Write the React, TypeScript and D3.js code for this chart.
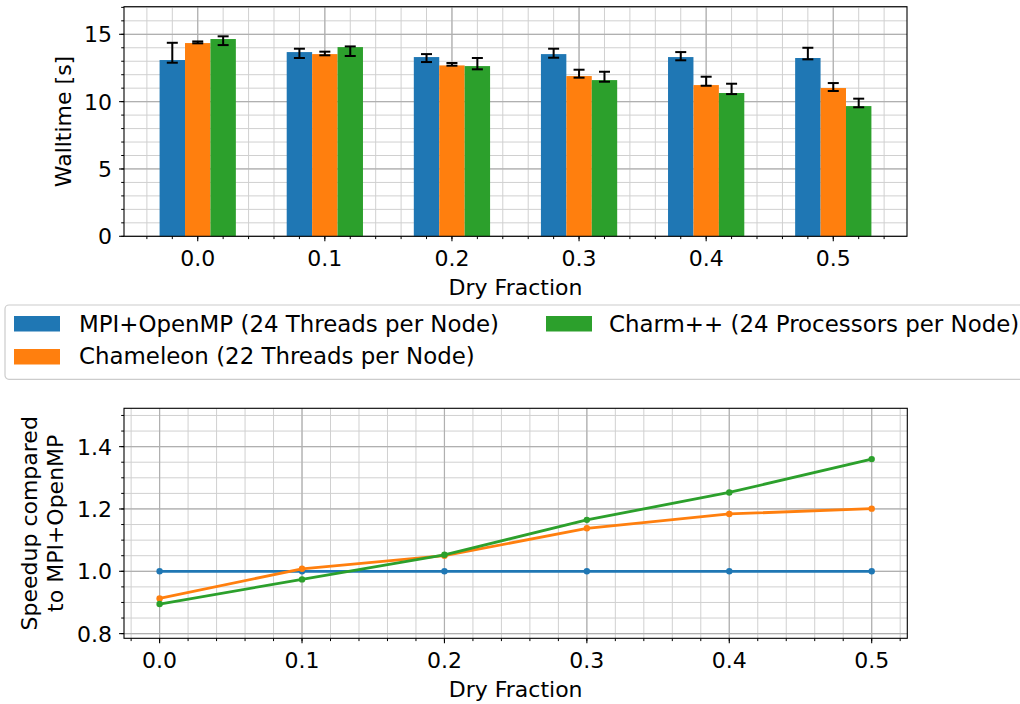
import React from "react";
import * as d3 from "d3";

const fractions = [0.0, 0.1, 0.2, 0.3, 0.4, 0.5];
const tickLabels = ["0.0", "0.1", "0.2", "0.3", "0.4", "0.5"];

const seriesNames = [
  "MPI+OpenMP (24 Threads per Node)",
  "Chameleon (22 Threads per Node)",
  "Charm++ (24 Processors per Node)",
];
const colors = ["#1f77b4", "#ff7f0e", "#2ca02c"];

const mpiWall = [13.09, 13.68, 13.31, 13.53, 13.31, 13.24];
const mpiLow = [12.89, 13.24, 12.94, 13.26, 13.07, 13.14];
const mpiHigh = [14.37, 13.93, 13.53, 13.93, 13.68, 14.0];

const chamWall = [14.35, 13.53, 12.69, 11.9, 11.23, 11.01];
const chamLow = [14.33, 13.44, 12.67, 11.78, 11.18, 10.79];
const chamHigh = [14.47, 13.71, 12.87, 12.37, 11.85, 11.38];

const charmWall = [14.65, 14.05, 12.64, 11.6, 10.64, 9.67];
const charmLow = [14.2, 13.39, 12.4, 11.48, 10.56, 9.58];
const charmHigh = [14.85, 14.1, 13.24, 12.22, 11.33, 10.22];

const mpiSpeedup = [1.0, 1.0, 1.0, 1.0, 1.0, 1.0];
const chamSpeedup = [0.913, 1.008, 1.05, 1.138, 1.184, 1.201];
const charmSpeedup = [0.895, 0.974, 1.053, 1.165, 1.253, 1.36];

const wallTicks = [0, 5, 10, 15];
const speedTicks = [0.8, 1.0, 1.2, 1.4];
const speedTickLabels = ["0.8", "1.0", "1.2", "1.4"];

const FONT = "DejaVu Sans";
const FS = 22;
const LEG_FS = 22.9;

export default function App() {
  const W = 1020, H = 704;
  // top chart
  const tL = 124, tR = 907, tT = 6.7, tB = 236.3;
  const xT = d3.scaleLinear().domain([-0.058, 0.558]).range([tL, tR]);
  const yT = d3.scaleLinear().domain([0, 17.05]).range([tB, tT]);
  const barW = 0.02;
  const offsets = [-0.02, 0, 0.02];
  const walls = [mpiWall, chamWall, charmWall];
  const lows = [mpiLow, chamLow, charmLow];
  const highs = [mpiHigh, chamHigh, charmHigh];

  // bottom chart
  const bL = 124, bR = 907.3, bT = 408.3, bB = 638.3;
  const xB = d3.scaleLinear().domain([-0.025, 0.525]).range([bL, bR]);
  const yB = d3.scaleLinear().domain([0.785, 1.523]).range([bB, bT]);
  const speeds = [mpiSpeedup, chamSpeedup, charmSpeedup];

  const r2 = (v: number) => Math.round(v * 1000) / 1000;
  const topXMinor = d3.range(-2, 28).map((i) => r2(i * 0.02)).filter((v) => v >= -0.058 && v <= 0.558);
  const topYMinor = d3.range(0, 18).filter((v) => v <= 17.05);
  const botXMinor = d3.range(-1, 27).map((i) => r2(i * 0.02)).filter((v) => v >= -0.025 && v <= 0.525);
  const botYMinor = d3.range(16, 31).map((i) => r2(i * 0.05)).filter((v) => v >= 0.785 && v <= 1.523);

  const majorGrid = { stroke: "#b0b0b0", strokeWidth: 1.2 };
  const minorGrid = { stroke: "#d0d0d0", strokeWidth: 1 };
  const line = d3
    .line<number>()
    .x((_, i) => xB(fractions[i]))
    .y((d) => yB(d));

  const capHalf = 5.5;

  return (
    <svg
      width={W}
      height={H}
      style={{ position: "absolute", left: 0, top: 0, background: "#fff" }}
      fontFamily={FONT}
    >
      <rect x={0} y={0} width={W} height={H} fill="#fff" />
      {/* ---------- TOP CHART ---------- */}
      <g>
        {topXMinor.map((v, i) => (
          <line key={"txm" + i} x1={xT(v)} x2={xT(v)} y1={tT} y2={tB} {...minorGrid} />
        ))}
        {topYMinor.map((v, i) => (
          <line key={"tym" + i} x1={tL} x2={tR} y1={yT(v)} y2={yT(v)} {...minorGrid} />
        ))}
        {fractions.map((v, i) => (
          <line key={"txM" + i} x1={xT(v)} x2={xT(v)} y1={tT} y2={tB} {...majorGrid} />
        ))}
        {wallTicks.map((v, i) => (
          <line key={"tyM" + i} x1={tL} x2={tR} y1={yT(v)} y2={yT(v)} {...majorGrid} />
        ))}
        {walls.map((vals, s) =>
          vals.map((v, i) => (
            <rect
              key={"bar" + s + "-" + i}
              x={xT(fractions[i] + offsets[s] - barW / 2)}
              width={xT(fractions[i] + offsets[s] + barW / 2) - xT(fractions[i] + offsets[s] - barW / 2)}
              y={yT(v)}
              height={yT(0) - yT(v)}
              fill={colors[s]}
            />
          ))
        )}
        {walls.map((vals, s) =>
          vals.map((_, i) => {
            const cx = xT(fractions[i] + offsets[s]);
            const y1 = yT(lows[s][i]);
            const y2 = yT(highs[s][i]);
            return (
              <g key={"err" + s + "-" + i} stroke="#000" strokeWidth={2}>
                <line x1={cx} x2={cx} y1={y1} y2={y2} />
                <line x1={cx - capHalf} x2={cx + capHalf} y1={y1} y2={y1} />
                <line x1={cx - capHalf} x2={cx + capHalf} y1={y2} y2={y2} />
              </g>
            );
          })
        )}
        {/* spines */}
        <rect x={tL} y={tT} width={tR - tL} height={tB - tT} fill="none" stroke="#000" strokeWidth={1.1} />
        {/* ticks */}
        {topXMinor.map((v, i) => (
          <line key={"txmt" + i} x1={xT(v)} x2={xT(v)} y1={tB} y2={tB + 2.8} stroke="#000" strokeWidth={1} />
        ))}
        {fractions.map((v, i) => (
          <g key={"txt" + i}>
            <line x1={xT(v)} x2={xT(v)} y1={tB} y2={tB + 4.9} stroke="#000" strokeWidth={1.1} />
            <text x={xT(v)} y={265.7} textAnchor="middle" fontSize={FS} fill="#000">
              {tickLabels[i]}
            </text>
          </g>
        ))}
        {topYMinor.map((v, i) => (
          <line key={"tymt" + i} x1={tL - 2.8} x2={tL} y1={yT(v)} y2={yT(v)} stroke="#000" strokeWidth={1} />
        ))}
        {wallTicks.map((v, i) => (
          <g key={"tyt" + i}>
            <line x1={tL - 4.9} x2={tL} y1={yT(v)} y2={yT(v)} stroke="#000" strokeWidth={1.1} />
            <text x={tL - 12} y={yT(v) + 8} textAnchor="end" fontSize={FS} fill="#000">
              {String(v)}
            </text>
          </g>
        ))}
        <text x={(tL + tR) / 2} y={295} textAnchor="middle" fontSize={FS} fill="#000">
          Dry Fraction
        </text>
        <text
          transform={`translate(70.5,${(tT + tB) / 2}) rotate(-90)`}
          textAnchor="middle"
          fontSize={FS}
          fill="#000"
        >
          Walltime [s]
        </text>
      </g>

      {/* ---------- LEGEND ---------- */}
      <g>
        <rect x={5} y={305} width={1030} height={74.3} rx={4} fill="#fff" fillOpacity={0.8} stroke="#cccccc" strokeWidth={1.2} />
        {[
          { s: 0, px: 14, tx: 79, py: 316, ty: 331.7 },
          { s: 1, px: 14, tx: 79, py: 349, ty: 364.3 },
          { s: 2, px: 546, tx: 609, py: 316, ty: 331.7 },
        ].map((e) => (
          <g key={"leg" + e.s}>
            <rect x={e.px} y={e.py} width={46} height={15.5} fill={colors[e.s]} />
            <text x={e.tx} y={e.ty} fontSize={LEG_FS} fill="#000">
              {seriesNames[e.s]}
            </text>
          </g>
        ))}
      </g>

      {/* ---------- BOTTOM CHART ---------- */}
      <g>
        {botXMinor.map((v, i) => (
          <line key={"bxm" + i} x1={xB(v)} x2={xB(v)} y1={bT} y2={bB} {...minorGrid} />
        ))}
        {botYMinor.map((v, i) => (
          <line key={"bym" + i} x1={bL} x2={bR} y1={yB(v)} y2={yB(v)} {...minorGrid} />
        ))}
        {fractions.map((v, i) => (
          <line key={"bxM" + i} x1={xB(v)} x2={xB(v)} y1={bT} y2={bB} {...majorGrid} />
        ))}
        {speedTicks.map((v, i) => (
          <line key={"byM" + i} x1={bL} x2={bR} y1={yB(v)} y2={yB(v)} {...majorGrid} />
        ))}
        {speeds.map((vals, s) => (
          <g key={"ln" + s}>
            <path d={line(vals) || ""} fill="none" stroke={colors[s]} strokeWidth={2.8} strokeLinejoin="round" />
            {vals.map((v, i) => (
              <circle key={"pt" + i} cx={xB(fractions[i])} cy={yB(v)} r={3.2} fill={colors[s]} />
            ))}
          </g>
        ))}
        <rect x={bL} y={bT} width={bR - bL} height={bB - bT} fill="none" stroke="#000" strokeWidth={1.1} />
        {botXMinor.map((v, i) => (
          <line key={"bxmt" + i} x1={xB(v)} x2={xB(v)} y1={bB} y2={bB + 2.8} stroke="#000" strokeWidth={1} />
        ))}
        {fractions.map((v, i) => (
          <g key={"bxt" + i}>
            <line x1={xB(v)} x2={xB(v)} y1={bB} y2={bB + 4.9} stroke="#000" strokeWidth={1.1} />
            <text x={xB(v)} y={668} textAnchor="middle" fontSize={FS} fill="#000">
              {tickLabels[i]}
            </text>
          </g>
        ))}
        {botYMinor.map((v, i) => (
          <line key={"bymt" + i} x1={bL - 2.8} x2={bL} y1={yB(v)} y2={yB(v)} stroke="#000" strokeWidth={1} />
        ))}
        {speedTicks.map((v, i) => (
          <g key={"byt" + i}>
            <line x1={bL - 4.9} x2={bL} y1={yB(v)} y2={yB(v)} stroke="#000" strokeWidth={1.1} />
            <text x={bL - 12} y={yB(v) + 8} textAnchor="end" fontSize={FS} fill="#000">
              {speedTickLabels[i]}
            </text>
          </g>
        ))}
        <text x={(bL + bR) / 2} y={697} textAnchor="middle" fontSize={FS} fill="#000">
          Dry Fraction
        </text>
        <text
          transform={`translate(37,${(bT + bB) / 2}) rotate(-90)`}
          textAnchor="middle"
          fontSize={FS}
          fill="#000"
        >
          Speedup compared
        </text>
        <text
          transform={`translate(63,${(bT + bB) / 2}) rotate(-90)`}
          textAnchor="middle"
          fontSize={FS}
          fill="#000"
        >
          to MPI+OpenMP
        </text>
      </g>
    </svg>
  );
}
